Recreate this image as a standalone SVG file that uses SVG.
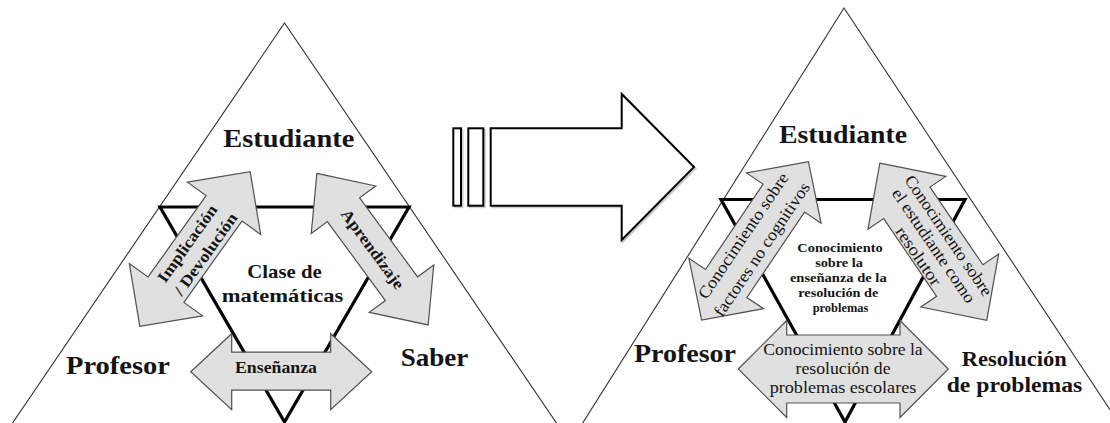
<svg xmlns="http://www.w3.org/2000/svg" width="1110" height="423" viewBox="0 0 1110 423">
<style>
.big{fill:none;stroke:#333;stroke-width:1.1}
.inner{fill:none;stroke:#000;stroke-width:3.2;stroke-linejoin:miter}
.ga{fill:#e0e0e0;stroke:#505050;stroke-width:1.2;stroke-linejoin:miter}
.wa{fill:#fff;stroke:#000;stroke-width:2}
.sh{fill:none;stroke:#aaa;stroke-width:2;opacity:0.6}
text{font-family:"Liberation Serif","Times New Roman",serif;fill:#141414}
.lb{font-weight:bold;font-size:25px}
.lb2{font-weight:bold;font-size:20px}
.cb{font-weight:bold;font-size:19px;text-anchor:middle}
.ab{font-weight:bold;font-size:16px;text-anchor:middle}
.ar{font-size:17px;text-anchor:middle}
.hx{font-weight:bold;font-size:13px;text-anchor:middle}
</style>
<rect width="1110" height="423" fill="#fff"/>

<g id="left-triangle">
  <polyline class="big" points="1,440 284.5,23 568,440"/>
  <polygon class="inner" points="160,207 409,207 284.5,422"/>
</g>
<g id="right-triangle">
  <polyline class="big" points="572,440 844,8 1130,440"/>
  <polygon class="inner" points="721,199.5 965,199.5 845,422"/>
</g>

<g id="transition-arrow">
  <g transform="translate(1.5,1.5)">
    <rect class="sh" x="453.3" y="128.3" width="7.7" height="77.4"/>
    <rect class="sh" x="468.3" y="128.3" width="15" height="77.4"/>
    <polygon class="sh" points="490.7,128.3 621.7,128.3 621.7,94 694,167 621.7,240 621.7,205.7 490.7,205.7"/>
  </g>
  <rect class="wa" x="453.3" y="128.3" width="7.7" height="77.4"/>
  <rect class="wa" x="468.3" y="128.3" width="15" height="77.4"/>
  <polygon class="wa" points="490.7,128.3 621.7,128.3 621.7,94 694,167 621.7,240 621.7,205.7 490.7,205.7"/>
</g>

<g id="connectors">
  <g id="implicacion" transform="translate(195,249) rotate(-54.5)">
    <path class="ga" d="M-95,0 L-50,-45 L-50,-22 L50,-22 L50,-45 L95,0 L50,45 L50,22 L-50,22 L-50,45 Z"/>
    <text class="ab" x="0" y="-4" textLength="91" lengthAdjust="spacingAndGlyphs">Implicación</text>
    <text class="ab" x="2" y="17" textLength="97" lengthAdjust="spacingAndGlyphs">/ Devolución</text>
  </g>
  <g id="aprendizaje" transform="translate(372.5,249.2) rotate(53.7)">
    <path class="ga" d="M-94,0 L-49,-40 L-49,-20 L49,-20 L49,-40 L94,0 L49,40 L49,20 L-49,20 L-49,40 Z"/>
    <text class="ab" x="0" y="5" textLength="95" lengthAdjust="spacingAndGlyphs">Aprendizaje</text>
  </g>
  <g id="ensenanza">
    <path class="ga" d="M190.7,371.7 L231.7,333.7 L231.7,352.2 L330.7,352.2 L330.7,333.7 L371.7,371.7 L330.7,409.7 L330.7,390.2 L231.7,390.2 L231.7,409.7 Z"/>
    <text class="ab" x="276" y="372.7" font-size="15" textLength="82" lengthAdjust="spacingAndGlyphs">Enseñanza</text>
  </g>
  <g id="factores" transform="translate(755,240.8) rotate(-56)">
    <path class="ga" d="M-95.5,0 L-51.5,-45 L-51.5,-25 L51.5,-25 L51.5,-45 L95.5,0 L51.5,45 L51.5,25 L-51.5,25 L-51.5,45 Z"/>
    <text class="ar" x="-2.4" y="-7" textLength="148" lengthAdjust="spacingAndGlyphs">Conocimiento sobre</text>
    <text class="ar" x="-3.4" y="16" textLength="158" lengthAdjust="spacingAndGlyphs">factores no cognitivos</text>
  </g>
  <g id="resolutor" transform="translate(933.3,241.7) rotate(55.75)">
    <path class="ga" d="M-95,0 L-47,-47 L-47,-28 L47,-28 L47,-47 L95,0 L47,47 L47,28 L-47,28 L-47,47 Z"/>
    <text class="ar" x="3.5" y="-10.5" textLength="142" lengthAdjust="spacingAndGlyphs">Conocimiento sobre</text>
    <text class="ar" x="3.5" y="7.5" textLength="134.6" lengthAdjust="spacingAndGlyphs">el estudiante como</text>
    <text class="ar" x="3.5" y="26" textLength="67.6" lengthAdjust="spacingAndGlyphs">resolutor</text>
  </g>
  <g id="escolares">
    <path class="ga" d="M738.3,369 L786.7,320.5 L786.7,335 L900,335 L900,320.5 L948.3,369 L900,417.5 L900,403 L786.7,403 L786.7,417.5 Z"/>
    <text class="ar" x="843" y="355" textLength="159.4" lengthAdjust="spacingAndGlyphs">Conocimiento sobre la</text>
    <text class="ar" x="843" y="374" textLength="95" lengthAdjust="spacingAndGlyphs">resolución de</text>
    <text class="ar" x="843" y="392.7" textLength="146.7" lengthAdjust="spacingAndGlyphs">problemas escolares</text>
  </g>
</g>

<g id="estudiante-left"><text class="lb" x="223.3" y="147" textLength="131" lengthAdjust="spacingAndGlyphs">Estudiante</text></g>
<g id="profesor-left"><text class="lb" x="66" y="374.3" textLength="104" lengthAdjust="spacingAndGlyphs">Profesor</text></g>
<g id="saber"><text class="lb" x="400.7" y="366" textLength="67.6" lengthAdjust="spacingAndGlyphs">Saber</text></g>
<g id="clase">
  <text class="cb" x="284.5" y="278.3" textLength="74.4" lengthAdjust="spacingAndGlyphs">Clase de</text>
  <text class="cb" x="282.5" y="301.7" textLength="121.6" lengthAdjust="spacingAndGlyphs">matemáticas</text>
</g>

<g id="estudiante-right"><text class="lb" x="779" y="143.3" textLength="128" lengthAdjust="spacingAndGlyphs">Estudiante</text></g>
<g id="profesor-right"><text class="lb" x="634" y="361.7" textLength="102" lengthAdjust="spacingAndGlyphs">Profesor</text></g>
<g id="resolucion-problemas">
  <text class="lb2" x="961.7" y="366" textLength="105" lengthAdjust="spacingAndGlyphs">Resolución</text>
  <text class="lb2" x="946.7" y="392" textLength="135.6" lengthAdjust="spacingAndGlyphs">de problemas</text>
</g>
<g id="ensenanza-rp">
  <text class="hx" x="840" y="251.7" textLength="85.3" lengthAdjust="spacingAndGlyphs">Conocimiento</text>
  <text class="hx" x="839" y="266.7" textLength="47.7" lengthAdjust="spacingAndGlyphs">sobre la</text>
  <text class="hx" x="838.3" y="281.7" textLength="96.7" lengthAdjust="spacingAndGlyphs">enseñanza de la</text>
  <text class="hx" x="838.3" y="296.7" textLength="80" lengthAdjust="spacingAndGlyphs">resolución de</text>
  <text class="hx" x="840.5" y="311.7" textLength="55.7" lengthAdjust="spacingAndGlyphs">problemas</text>
</g>
</svg>
